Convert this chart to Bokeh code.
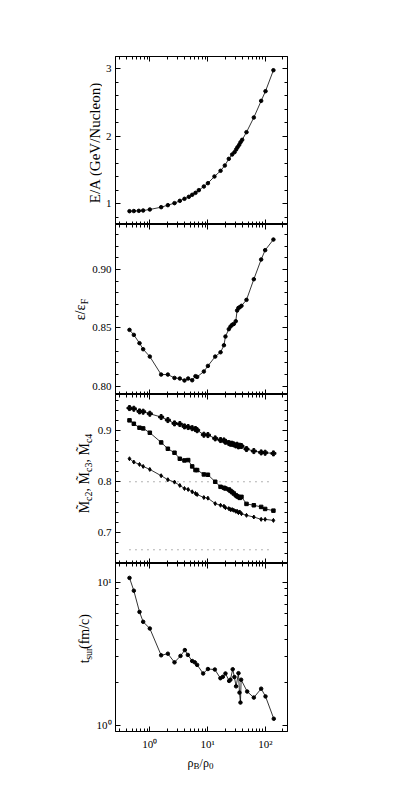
import math
from bokeh.plotting import figure
from bokeh.layouts import column, row
from bokeh.models import (Range1d, LinearAxis, LogAxis, FixedTicker, SingleIntervalTicker,
                          PrintfTickFormatter, CustomJSTickFormatter)
from bokeh.core.properties import value
from bokeh.embed import file_html
from bokeh.resources import INLINE

# ---------------- data ----------------
rho_energy = [0.445, 0.529, 0.645, 0.767, 1.0, 1.57, 2.05, 2.67, 3.30, 3.97, 4.72, 5.40,
              6.16, 7.03, 8.59, 10.1, 13.1, 16.7, 19.8, 23.2, 26.5, 29.1, 31.1, 32.8,
              35.1, 37.0, 39.5, 46.9, 62.8, 84.1, 100.0, 137.0]
energy_per_nucleon = [0.893, 0.895, 0.898, 0.903, 0.918, 0.952, 0.982, 1.012, 1.046, 1.076,
                      1.105, 1.135, 1.164, 1.204, 1.258, 1.307, 1.406, 1.490, 1.568, 1.667,
                      1.731, 1.765, 1.805, 1.839, 1.874, 1.913, 1.948, 2.061, 2.278, 2.524,
                      2.667, 2.977]

rho_mid = [0.445, 0.529, 0.663, 0.767, 1.00, 1.57, 2.05, 2.67, 3.30, 3.97, 4.60, 5.40,
           6.16, 6.58, 8.59, 10.1, 13.5, 16.7, 19.1, 20.3, 23.2, 24.8, 26.5, 28.3, 30.6,
           32.3, 34.0, 35.9, 38.4, 46.9, 62.8, 84.1, 98.6, 137.0]
eps_ratio = [0.8483, 0.8440, 0.8369, 0.8317, 0.8254, 0.8100, 0.8100, 0.8071, 0.8066, 0.8049,
             0.8066, 0.8051, 0.8086, 0.8080, 0.8126, 0.8174, 0.8254, 0.8291, 0.8351, 0.8426,
             0.8489, 0.8511, 0.8526, 0.8534, 0.8557, 0.8649, 0.8671, 0.8677, 0.8689, 0.8740,
             0.8917, 0.9086, 0.9166, 0.9257]
m_upper = [0.9444, 0.9431, 0.9379, 0.9373, 0.9333, 0.9268, 0.9209, 0.9144, 0.9131, 0.9085,
           0.9072, 0.9050, 0.9033, 0.9010, 0.8922, 0.8915, 0.8850, 0.8817, 0.8810, 0.8784,
           0.8758, 0.8745, 0.8745, 0.8732, 0.8712, 0.8725, 0.8693, 0.8706, 0.8700, 0.8641,
           0.8601, 0.8575, 0.8569, 0.8556]
m_middle = [0.9203, 0.9137, 0.9059, 0.9046, 0.8961, 0.8771, 0.8647, 0.8569, 0.8451, 0.8418,
            0.8425, 0.8301, 0.8229, 0.8229, 0.8144, 0.8137, 0.8000, 0.7901, 0.7882, 0.7868,
            0.7849, 0.7822, 0.7796, 0.7770, 0.7737, 0.7717, 0.7704, 0.7684, 0.7704, 0.7566,
            0.7539, 0.7507, 0.7467, 0.7434]
m_lower = [0.8451, 0.8386, 0.8340, 0.8301, 0.8242, 0.8118, 0.8040, 0.7993, 0.7928, 0.7868,
           0.7849, 0.7803, 0.7770, 0.7750, 0.7691, 0.7678, 0.7572, 0.7539, 0.7520, 0.7493,
           0.7474, 0.7454, 0.7454, 0.7441, 0.7421, 0.7421, 0.7395, 0.7408, 0.7375, 0.7342,
           0.7309, 0.7263, 0.7263, 0.7243]
m_reference_levels = [0.8, 0.6667]

rho_tsur = [0.445, 0.529, 0.663, 0.767, 1.0, 1.57, 2.05, 2.67, 3.39, 4.03, 4.54, 5.40,
            5.99, 6.58, 8.36, 10.1, 13.3, 16.6, 18.3, 20.3, 23.5, 24.7, 27.1, 29.0, 31.0,
            34.1, 35.5, 36.9, 37.9, 48.2, 62.8, 84.1, 100.0, 139.0]
t_sur = [10.7, 8.71, 6.19, 5.28, 4.74, 3.08, 3.16, 2.75, 3.05, 3.35, 3.10, 2.81, 2.75, 2.64,
         2.30, 2.47, 2.45, 2.13, 2.18, 2.30, 2.04, 2.08, 2.46, 2.17, 1.87, 2.31, 1.69, 1.44,
         2.08, 1.72, 1.56, 1.80, 1.59, 1.11]

x_major_ticks = [1, 10, 100]
x_minor_ticks = [0.3, 0.4, 0.5, 0.6, 0.7, 0.8, 0.9, 2, 3, 4, 5, 6, 7, 8, 9,
                 20, 30, 40, 50, 60, 70, 80, 90, 200]
t_major_ticks = [1, 10]
t_minor_ticks = [2, 3, 4, 5, 6, 7, 8, 9]

# ---------------- layout constants ----------------
FONT = "Liberation Serif"
FRAME_X = 115          # page x of the plotting frames
FRAME_W = 172
RIGHT = 100
TOTAL_W = FRAME_X + FRAME_W + RIGHT

x_range = Range1d(0.255, 240)

POW_CODE = """
const sup = {"-1": "\u207b\u00b9", "0": "\u2070", "1": "\u00b9", "2": "\u00b2", "3": "\u00b3"};
const e = Math.round(Math.log10(tick));
return "10" + (sup[String(e)] || String(e));
"""

TW = {' ': 250, 'E': 611, '/': 278, 'A': 722, '(': 333, 'G': 722, 'e': 444, 'V': 722,
      'N': 722, 'u': 500, 'c': 444, 'l': 278, 'o': 500, 'n': 500, ')': 333, 'ε': 439,
      'F': 556, 'M': 889, 't': 278, 's': 389, 'r': 333, 'm': 778, 'f': 333, 'ρ': 500,
      'B': 667, '0': 500, '2': 500, '3': 500, '4': 500, ',': 250, '\u0303': 0}


def tw(s, size):
    return sum(TW.get(ch, 500) for ch in s) * size / 1000.0


def text_fig(width, height):
    f = figure(width=width, height=height, x_range=Range1d(0, width),
               y_range=Range1d(0, height), output_backend="svg", toolbar_location=None,
               min_border=0, x_axis_location=None, y_axis_location=None)
    f.outline_line_color = None
    f.grid.visible = False
    f.background_fill_color = "white"
    f.border_fill_color = "white"
    return f


def comp_text(f, parts, cx, cy, main_size, sub_size, vertical, sub_off=3.5):
    """Composite label with subscripts; (cx, cy) = middle of the main text line."""
    total = sum(tw(t, sub_size if sub else main_size) for t, sub in parts)
    pos = -total / 2.0
    for t, sub in parts:
        size = sub_size if sub else main_size
        off = sub_off if sub else 0
        if vertical:
            x, y, ang = cx + off, cy + pos, math.pi / 2
        else:
            x, y, ang = cx + pos, cy - off, 0
        f.text(x=[x], y=[y], text=[t], angle=ang, text_align="left",
               text_baseline="middle", text_font=value(FONT),
               text_font_size=value(f"{size}px"), text_color="black")
        pos += tw(t, size)


def style_axis(ax, labels):
    ax.major_tick_in = 5
    ax.major_tick_out = 0
    ax.minor_tick_in = 3
    ax.minor_tick_out = 0
    ax.axis_line_color = "black"
    ax.major_tick_line_color = "black"
    ax.minor_tick_line_color = "black"
    if labels:
        ax.major_label_text_font = FONT
        ax.major_label_text_font_size = "11px"
        ax.major_label_text_color = "black"
        ax.major_label_standoff = 4
    else:
        ax.major_label_text_font_size = "1px"
        ax.major_label_text_alpha = 0
        ax.major_label_standoff = 0


def panel(height, left, top, bottom, y_range, y_log, y_ticker_fn, y_fmt, x_labels):
    p = figure(width=left + FRAME_W + RIGHT, height=height, x_axis_type="log",
               y_axis_type="log" if y_log else "linear",
               x_range=x_range, y_range=y_range, output_backend="svg",
               toolbar_location=None, min_border_left=left, min_border_right=RIGHT,
               min_border_top=top, min_border_bottom=bottom)
    p.grid.visible = False
    p.outline_line_color = "black"
    p.background_fill_color = "white"
    p.border_fill_color = "white"
    xa = p.xaxis[0]
    xa.ticker = FixedTicker(ticks=x_major_ticks, minor_ticks=x_minor_ticks)
    style_axis(xa, x_labels)
    if x_labels:
        xa.formatter = CustomJSTickFormatter(code=POW_CODE)
        xa.major_label_standoff = 6
    ya = p.yaxis[0]
    ya.ticker = y_ticker_fn()
    ya.formatter = y_fmt
    style_axis(ya, True)
    top_ax = LogAxis(ticker=FixedTicker(ticks=x_major_ticks, minor_ticks=x_minor_ticks))
    style_axis(top_ax, False)
    p.add_layout(top_ax, "above")
    right_ax = (LogAxis if y_log else LinearAxis)(ticker=y_ticker_fn())
    style_axis(right_ax, False)
    p.add_layout(right_ax, "right")
    return p


LW = 0.8

# Panel 1: E/A
H1, L1 = 224, 13
p1 = panel(H1, L1, 56, 0, Range1d(0.696, 3.18), False,
           lambda: SingleIntervalTicker(interval=1, num_minor_ticks=5),
           PrintfTickFormatter(format="%d"), False)
p1.line(rho_energy, energy_per_nucleon, line_color="black", line_width=LW)
p1.scatter(rho_energy, energy_per_nucleon, size=3.5, color="black")
t1 = text_fig(FRAME_X - L1, H1)
comp_text(t1, [("E/A (GeV/Nucleon)", False)], FRAME_X - L1 - 8, H1 - 135, 15, 11, True)

# Panel 2: eps/eps_F
H2, L2 = 170, 26
p2 = panel(H2, L2, 0, 0, Range1d(0.7929, 0.9386), False,
           lambda: SingleIntervalTicker(interval=0.05, num_minor_ticks=5),
           PrintfTickFormatter(format="%.2f"), False)
p2.line(rho_mid, eps_ratio, line_color="black", line_width=LW)
p2.scatter(rho_mid, eps_ratio, size=3.5, color="black")
t2 = text_fig(FRAME_X - L2, H2)
comp_text(t2, [("ε/ε", False), ("F", True)], FRAME_X - L2 - 9, H2 - (309 - 224), 14, 10, True)

# Panel 3: M_c2, M_c3, M_c4
H3, L3 = 169, 22
p3 = panel(H3, L3, 0, 0, Range1d(0.6398, 0.971), False,
           lambda: SingleIntervalTicker(interval=0.1, num_minor_ticks=5),
           PrintfTickFormatter(format="%.1f"), False)
for lvl in m_reference_levels:
    p3.line([rho_mid[0], rho_mid[-1]], [lvl, lvl], line_color="#666666",
            line_width=1, line_dash="1 5")
p3.line(rho_mid, m_upper, line_color="black", line_width=LW)
p3.scatter(rho_mid, m_upper, size=5, marker="plus", color="black")
p3.line(rho_mid, m_middle, line_color="black", line_width=LW)
p3.scatter(rho_mid, m_middle, size=3.5, marker="square", color="black")
p3.line(rho_mid, m_lower, line_color="black", line_width=LW)
p3.scatter(rho_mid, m_lower, size=4, marker="diamond", color="black")
t3 = text_fig(FRAME_X - L3, H3)
comp_text(t3, [("M\u0303", False), ("c2", True), (", M\u0303", False), ("c3", True),
               (", M\u0303", False), ("c4", True)], FRAME_X - L3 - 9, H3 - (473 - 394), 14, 10, True)

# Panel 4: t_sur
H4, L4 = 189, 22
p4 = panel(H4, L4, 0, 20, Range1d(0.904, 13.49), True,
           lambda: FixedTicker(ticks=t_major_ticks, minor_ticks=t_minor_ticks),
           CustomJSTickFormatter(code=POW_CODE), True)
p4.line(rho_tsur, t_sur, line_color="black", line_width=LW)
p4.scatter(rho_tsur, t_sur, size=3.5, color="black")
t4 = text_fig(FRAME_X - L4, H4)
comp_text(t4, [("t", False), ("sur", True), (" (fm/c)", False)], FRAME_X - L4 - 9,
          H4 - (648 - 563), 14, 10, True)

# x-axis label
HX = 30
tx = text_fig(TOTAL_W, HX)
comp_text(tx, [("ρ", False), ("B", True), ("/ρ", False), ("0", True)], 200, HX - 10, 12, 9, False, 3)

layout = column(row(t1, p1), row(t2, p2), row(t3, p3), row(t4, p4), tx)

with open("out.html", "w") as f:
    f.write(file_html(layout, INLINE))
